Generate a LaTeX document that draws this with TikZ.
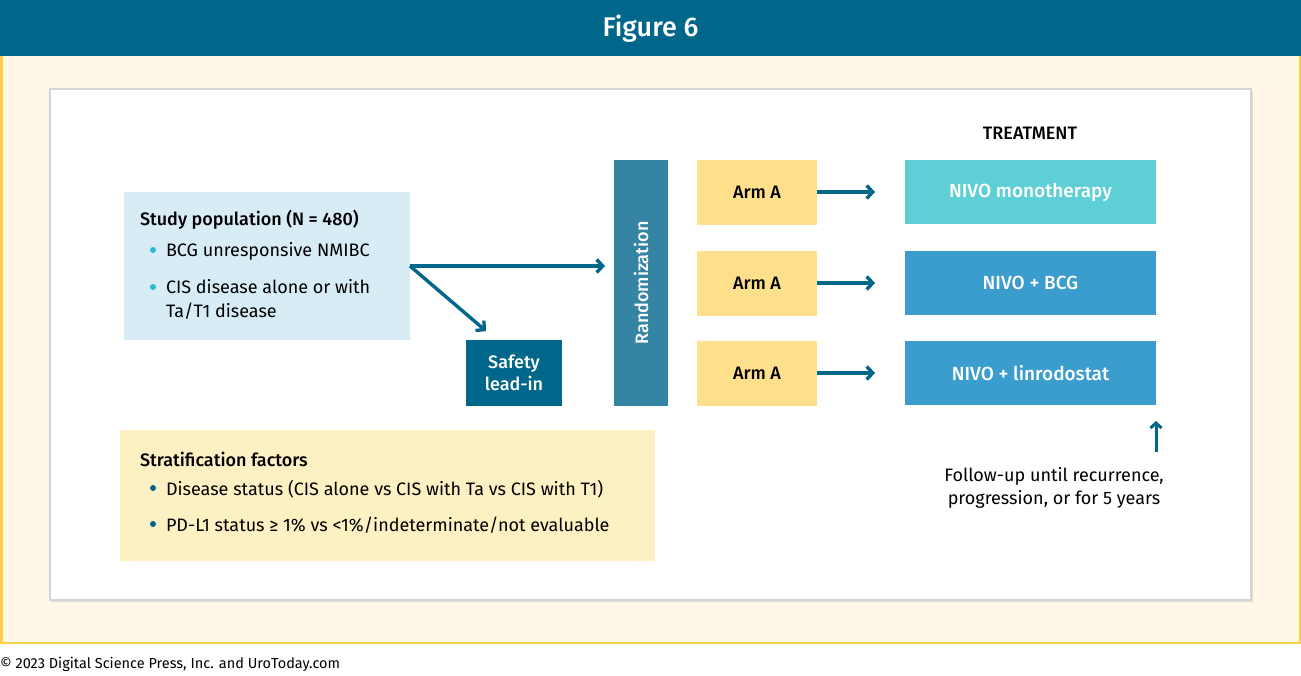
\documentclass[tikz,border=0pt]{standalone}
\usepackage{fontspec}
\setmainfont{Fira Sans}[BoldFont={Fira Sans Medium}]
\usetikzlibrary{arrows.meta}
\definecolor{navy}{HTML}{00668A}
\definecolor{randc}{HTML}{3584A3}
\definecolor{cream}{HTML}{FFF8E8}
\definecolor{gold}{HTML}{FDD240}
\definecolor{lblue}{HTML}{D8ECF5}
\definecolor{armc}{HTML}{FEE08C}
\definecolor{cyanbox}{HTML}{5DCFD5}
\definecolor{bluebox}{HTML}{3A9DCD}
\definecolor{strat}{HTML}{FDF0C2}
\definecolor{teal}{HTML}{2BBACB}
\definecolor{greyb}{HTML}{D4D4D4}
\tikzset{
  x=1pt,y=-1pt,
  every node/.style={font=\fontsize{18}{24}\selectfont, inner sep=0pt, outer sep=0pt},
  armbox/.style={fill=armc, minimum width=120pt, minimum height=65pt, font=\fontsize{18}{24}\selectfont\bfseries},
  treatbox/.style={minimum width=251pt, minimum height=64pt, text=white, font=\fontsize{19}{24}\selectfont\bfseries},
  conn/.style={draw=navy, line width=3.4pt, -{Straight Barb[length=6pt,width=13pt,line width=3.4pt]}},
  dotb/.style={circle, minimum size=6pt},
}
\begin{document}
\begin{tikzpicture}
\useasboundingbox (0,0) rectangle (1301,675);
% cream panel with gold border
\fill[cream] (0,56) rectangle (1301,644);
\draw[gold, line width=2.5pt] (1.25,56) -- (1.25,642.75) -- (1299.75,642.75) -- (1299.75,56);
% header
\fill[navy] (0,0) rectangle (1301,56);
\node[text=white, font=\fontsize{27}{32}\selectfont\bfseries] (title) at (650.5,29) {Figure 6};
% white inner box with shadow
\fill[greyb!80] (52,91) rectangle (1253,602);
\fill[white, draw=greyb, line width=1.5pt] (50,89) rectangle (1251,600);
% copyright
\node[anchor=west, font=\fontsize{14.5}{17}\selectfont] (copy) at (0,664) {© 2023 Digital Science Press, Inc. and UroToday.com};

% Study population
\node[fill=lblue, minimum width=286pt, minimum height=148pt, anchor=north west] (pop) at (124,192) {};
\node[anchor=base west, font=\fontsize{18}{24}\selectfont\bfseries] (poptitle) at (140,225) {Study population (N = 480)};
\node[dotb, fill=teal] (d1) at (153,250) {};
\node[anchor=base west] (b1) at (166,256) {BCG unresponsive NMIBC};
\node[dotb, fill=teal] (d2) at (153,287) {};
\node[anchor=base west, align=left] (b2) at (166,293) {CIS disease alone or with};
\node[anchor=base west] (b3) at (166,317) {Ta/T1 disease};

% Safety lead-in
\node[fill=navy, minimum width=96pt, minimum height=66pt, anchor=north west] (safety) at (466,340) {};
\node[text=white, align=center, font=\fontsize{18}{22}\selectfont\bfseries] (safetyt) at (514,373) {Safety\\lead-in};

% Randomization
\node[fill=randc, minimum width=54pt, minimum height=246pt, anchor=north west] (rand) at (614,160) {};
\node[text=white, rotate=90, font=\fontsize{18}{24}\selectfont\bfseries] (randt) at (641,283) {Randomization};

% arrows from population
\coordinate (split) at (410,266);
\coordinate (randin) at (605,266);
\coordinate (safin) at (486,331);
\draw[conn] (split) -- (randin);
\draw[conn] (split) -- (safin);

% arms
\node[armbox] (a1) at (757,192) {Arm A};
\node[armbox] (a2) at (757,283) {Arm A};
\node[armbox] (a3) at (757,373) {Arm A};

% treatments
\node[font=\fontsize{18}{24}\selectfont\bfseries] (treat) at (1030,133) {TREATMENT};
\node[treatbox, fill=cyanbox] (t1) at (1030.5,192) {NIVO monotherapy};
\node[treatbox, fill=bluebox] (t2) at (1030.5,283) {NIVO + BCG};
\node[treatbox, fill=bluebox] (t3) at (1030.5,373) {NIVO + linrodostat};

\draw[conn, shorten >=30pt] (a1.east) -- (t1.west);
\draw[conn, shorten >=30pt] (a2.east) -- (t2.west);
\draw[conn, shorten >=30pt] (a3.east) -- (t3.west);

% follow-up
\node[align=center, font=\fontsize{18}{23}\selectfont] (follow) at (1054,488) {Follow-up until recurrence,\\progression, or for 5 years};
\coordinate (fup0) at (1156,452);
\coordinate (fup1) at (1156,421);
\draw[draw=navy, line width=3pt, -{Straight Barb[length=5pt,width=11pt,line width=3pt]}] (fup0) -- (fup1);

% stratification
\node[fill=strat, minimum width=535pt, minimum height=131pt, anchor=north west] (strat) at (120,430) {};
\node[anchor=base west, font=\fontsize{18}{24}\selectfont\bfseries] (strattitle) at (140,466) {Stratification factors};
\node[dotb, fill=navy] (s1d) at (153,488) {};
\node[anchor=base west] (s1) at (166,495) {Disease status (CIS alone vs CIS with Ta vs CIS with T1)};
\node[dotb, fill=navy] (s2d) at (153,524) {};
\node[anchor=base west] (s2) at (166,531) {PD-L1 status ≥ 1\% vs <1\%/indeterminate/not evaluable};
\end{tikzpicture}
\end{document}
